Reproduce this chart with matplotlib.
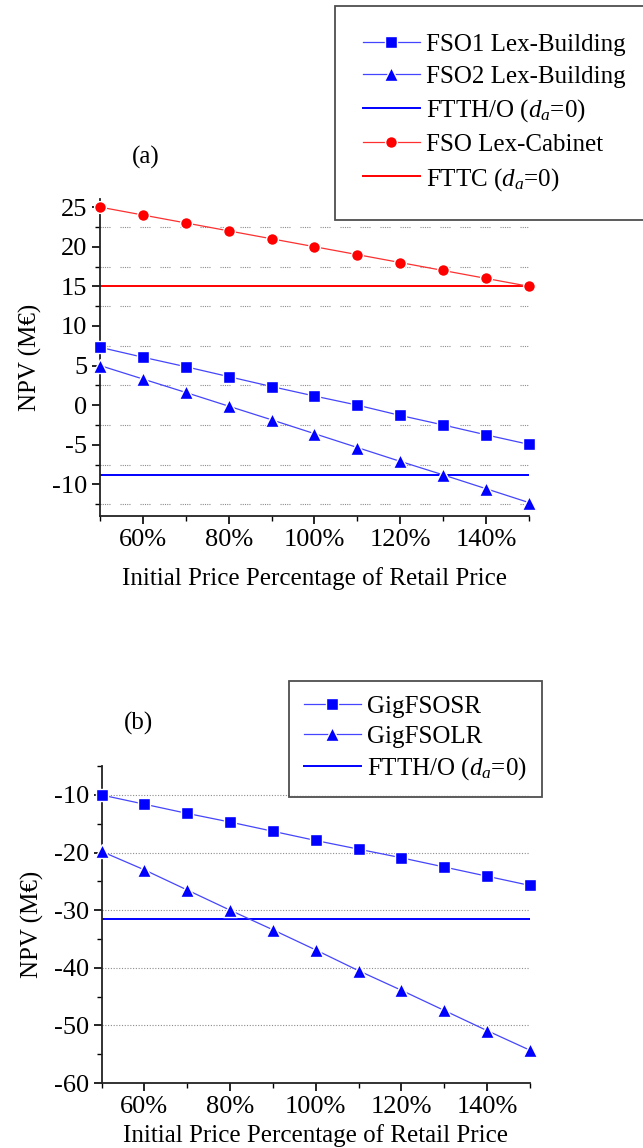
import matplotlib
matplotlib.use("Agg")
import matplotlib.pyplot as plt
from matplotlib.ticker import MultipleLocator, FuncFormatter

plt.rcParams['font.family'] = ['Liberation Serif', 'DejaVu Serif']
plt.rcParams['mathtext.fontset'] = 'custom'
plt.rcParams['mathtext.rm'] = 'Liberation Serif'
plt.rcParams['mathtext.it'] = 'Liberation Serif:italic'
plt.rcParams['axes.unicode_minus'] = False

# x values: initial price as % of retail price
price_pct = [50, 60, 70, 80, 90, 100, 110, 120, 130, 140, 150]

# panel (a)
fso1_building = [7.3, 6.05, 4.85, 3.6, 2.35, 1.15, 0.0, -1.3, -2.5, -3.75, -4.95]
fso2_building = [5.0, 3.3, 1.6, -0.13, -1.85, -3.6, -5.35, -7.1, -8.8, -10.55, -12.3]
ftth_a = -8.87
fso_cabinet = [25, 24, 23, 22, 21, 20, 19, 18, 17, 16, 15]
fttc = 15.0

# panel (b)
gig_sr = [-10.0, -11.6, -13.2, -14.7, -16.3, -17.9, -19.4, -20.9, -22.5, -24.1, -25.7]
gig_lr = [-19.8, -23.0, -26.5, -30.0, -33.4, -36.9, -40.5, -43.9, -47.4, -50.9, -54.3]
ftth_b = -31.45

BLUE = '#0000ff'
LBLUE = '#4545ff'
RED = '#ff0000'
LRED = '#ff3030'
TICK_FS = 19
LABEL_FS = 18
LEG_FS = 18
GRID_A = (0, (1, 1, 1, 1, 1, 1, 1, 1, 1, 9))
GRID_B = (0, (1, 1.5))


def style_axes(ax):
    ax.spines['top'].set_visible(False)
    ax.spines['right'].set_visible(False)
    for s in ('left', 'bottom'):
        ax.spines[s].set_linewidth(1.3)
        ax.spines[s].set_color('#222222')
    ax.set_xlim(50, 150)
    ax.xaxis.set_minor_locator(MultipleLocator(10))
    ax.set_xticks([60, 80, 100, 120, 140])
    ax.xaxis.set_major_formatter(FuncFormatter(lambda v, p: '%d%%' % v))
    ax.tick_params(which='major', direction='out', length=6, width=1.2,
                   labelsize=TICK_FS, pad=3)
    ax.tick_params(which='minor', direction='out', length=3.5, width=1.0)
    ax.set_xlabel('Initial Price Percentage of Retail Price', fontsize=LABEL_FS)
    ax.set_ylabel('NPV (M€)', fontsize=LABEL_FS)


def add_series(ax, y, marker, ms, line_color, face_color, label):
    ax.plot(price_pct, y, color=line_color, lw=0.9, marker=marker, markersize=ms,
            markerfacecolor=face_color, markeredgecolor='white', markeredgewidth=1.0,
            label=label, clip_on=False, zorder=3)


fig = plt.figure(figsize=(6.43, 11.48), dpi=100)

# ---- panel (a)
ax1 = fig.add_axes([0.1555, 0.5505, 0.667, 0.276])
add_series(ax1, fso1_building, 's', 8, LBLUE, BLUE, 'FSO1 Lex-Building')
add_series(ax1, fso2_building, '^', 10, LBLUE, BLUE, 'FSO2 Lex-Building')
ax1.axhline(ftth_a, color=BLUE, lw=1.4, label='FTTH/O ($d_a$=0)')
add_series(ax1, fso_cabinet, 'o', 8.5, LRED, RED, 'FSO Lex-Cabinet')
ax1.axhline(fttc, color=RED, lw=1.4, label='FTTC ($d_a$=0)')
style_axes(ax1)
ax1.set_ylim(-14, 26)
ax1.yaxis.set_major_locator(MultipleLocator(5))
ax1.yaxis.set_minor_locator(MultipleLocator(2.5))
ax1.grid(which='minor', axis='y', color='#8c8c8c', lw=0.8, linestyle=GRID_A)
ax1.yaxis.set_label_coords(-0.135, 0.5)
ax1.xaxis.labelpad = 12
leg1 = ax1.legend(loc='upper left', bbox_to_anchor=(0.548, 1.61), fontsize=LEG_FS,
                  frameon=True, fancybox=False, edgecolor='#222222',
                  handlelength=2.3, handletextpad=0.25, labelspacing=0.38,
                  borderpad=1.1, borderaxespad=0)
leg1.get_frame().set_linewidth(1.3)
fig.text(0.226, 0.863, '(a)', fontsize=18, ha='center', va='center')

# ---- panel (b)
ax2 = fig.add_axes([0.158, 0.0566, 0.666, 0.276])
add_series(ax2, gig_sr, 's', 8, LBLUE, BLUE, 'GigFSOSR')
add_series(ax2, gig_lr, '^', 10, LBLUE, BLUE, 'GigFSOLR')
ax2.axhline(ftth_b, color=BLUE, lw=1.4, label='FTTH/O ($d_a$=0)')
style_axes(ax2)
ax2.set_ylim(-60, -5)
ax2.yaxis.set_major_locator(MultipleLocator(10))
ax2.yaxis.set_minor_locator(MultipleLocator(5))
ax2.grid(which='major', axis='y', color='#8c8c8c', lw=0.8, linestyle=GRID_B)
ax2.yaxis.set_label_coords(-0.135, 0.5)
ax2.xaxis.labelpad = 5
leg2 = ax2.legend(loc='upper left', bbox_to_anchor=(0.437, 1.27), fontsize=LEG_FS,
                  frameon=True, fancybox=False, edgecolor='#222222',
                  handlelength=2.3, handletextpad=0.25, labelspacing=0.3,
                  borderpad=0.6, borderaxespad=0)
leg2.get_frame().set_linewidth(1.3)
fig.text(0.216, 0.370, '(b)', fontsize=18, ha='center', va='center')

fig.savefig('out.png', dpi=100, facecolor='white')
